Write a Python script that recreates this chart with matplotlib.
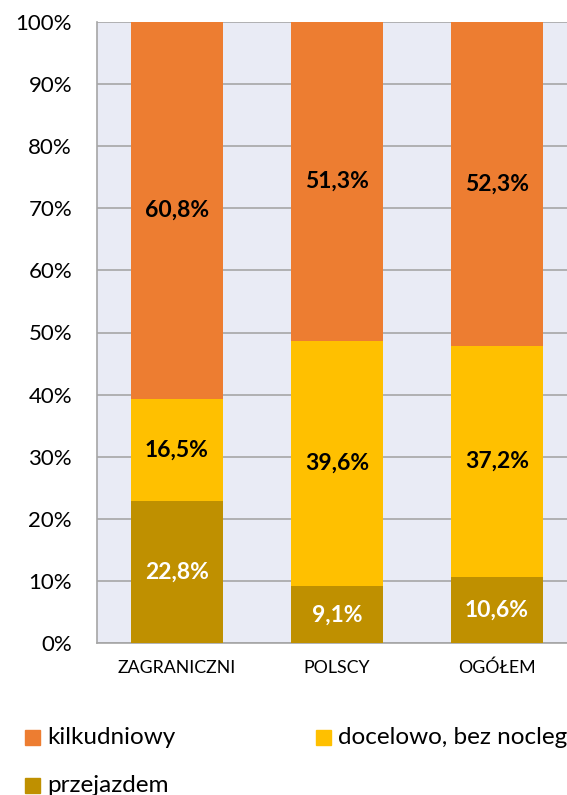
import matplotlib
matplotlib.use("Agg")
import matplotlib.pyplot as plt
import numpy as np

categories = ["ZAGRANICZNI", "POLSCY", "OGÓŁEM"]
przejazdem = [22.8, 9.1, 10.6]
docelowo = [16.5, 39.6, 37.2]
kilkudniowy = [60.8, 51.3, 52.3]
series_names = ["kilkudniowy", "docelowo, bez noclegu", "przejazdem"]
yticks = [0, 10, 20, 30, 40, 50, 60, 70, 80, 90, 100]

plt.rcParams['font.family'] = ['Lato', 'DejaVu Sans']

W, H = 567, 795
fig = plt.figure(figsize=(W / 100, H / 100), dpi=100)
left = 97 / W
right = 577 / W
bottom = 1 - 643 / H
top = 1 - 22 / H
ax = fig.add_axes([left, bottom, right - left, top - bottom])
ax.set_facecolor("#E9EBF5")

x = np.arange(len(categories))
w = 0.575
c_prz = "#BF9000"
c_doc = "#FFC000"
c_kil = "#ED7D31"

ax.bar(x, przejazdem, w, color=c_prz, zorder=3)
ax.bar(x, docelowo, w, bottom=przejazdem, color=c_doc, zorder=3)
bot3 = [a + b for a, b in zip(przejazdem, docelowo)]
ax.bar(x, kilkudniowy, w, bottom=bot3, color=c_kil, zorder=3)

def fmt(v):
    return f"{v:.1f}".replace(".", ",") + "%"

fs_val = 16.5
for i in range(len(categories)):
    ax.text(x[i], przejazdem[i] / 2, fmt(przejazdem[i]), ha="center", va="center",
            color="white", fontsize=fs_val, fontweight="bold", zorder=4)
    ax.text(x[i], przejazdem[i] + docelowo[i] / 2, fmt(docelowo[i]), ha="center", va="center",
            color="black", fontsize=fs_val, fontweight="bold", zorder=4)
    ax.text(x[i], bot3[i] + kilkudniowy[i] / 2, fmt(kilkudniowy[i]), ha="center", va="center",
            color="black", fontsize=fs_val, fontweight="bold", zorder=4)

ax.set_xlim(-0.5, len(categories) - 0.5)
ax.set_ylim(0, 100)
ax.set_yticks(yticks)
ax.set_yticklabels([f"{t}%" for t in yticks], fontsize=16)
ax.set_xticks(x)
ax.set_xticklabels(categories, fontsize=12.8)
ax.tick_params(axis="y", length=0, pad=18)
ax.tick_params(axis="x", length=0, pad=12)
ax.yaxis.grid(True, color="#A6A6A6", linewidth=1.2, zorder=1)
ax.set_axisbelow(True)
for s in ["top", "right"]:
    ax.spines[s].set_visible(False)
for s in ["left", "bottom"]:
    ax.spines[s].set_color("#A6A6A6")
    ax.spines[s].set_linewidth(1.2)

# legend
def legend_item(px, py, color, label):
    fig.patches.append(matplotlib.patches.Rectangle(
        (px / W, 1 - (py + 7.5) / H), 15 / W, 15 / H, transform=fig.transFigure,
        color=color, figure=fig))
    fig.text((px + 22) / W, 1 - py / H, label, fontsize=17.5, va="center", ha="left")

legend_item(25, 737, c_kil, series_names[0])
legend_item(316, 737, c_doc, series_names[1])
legend_item(25, 785, c_prz, series_names[2])

fig.savefig("out.png", dpi=100)
